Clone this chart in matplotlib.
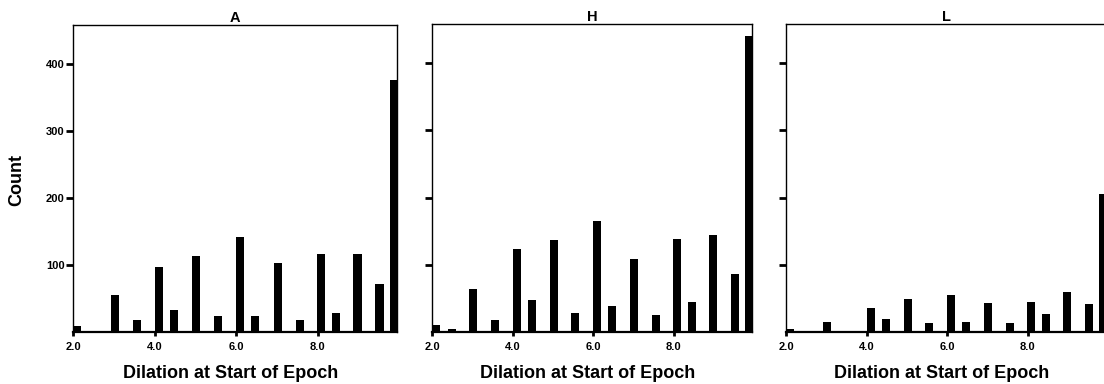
import matplotlib
matplotlib.use("Agg")
import matplotlib.pyplot as plt

plt.rcParams['font.family'] = ['Liberation Sans', 'DejaVu Sans']
plt.rcParams['font.weight'] = 'bold'

# Data
positions = [2.1, 2.5, 3.03, 3.57, 4.1, 4.48, 5.02, 5.55, 6.1, 6.47,
             7.02, 7.56, 8.08, 8.45, 8.98, 9.52, 9.87]
counts_A = [9, 2, 55, 18, 97, 33, 114, 24, 142, 24, 103, 18, 117, 28, 116, 72, 376]
counts_H = [11, 4, 64, 18, 124, 47, 137, 28, 165, 38, 108, 26, 139, 45, 144, 86, 440]
counts_L = [5, 0, 15, 2, 35, 19, 49, 13, 55, 15, 43, 14, 44, 27, 59, 42, 205]
panel_titles = ["A", "H", "L"]
x_ticks = [2.0, 4.0, 6.0, 8.0]
x_tick_labels = ["2.0", "4.0", "6.0", "8.0"]
y_ticks = [100, 200, 300, 400]
y_tick_labels = ["100", "200", "300", "400"]
x_label = "Dilation at Start of Epoch"
y_label = "Count"

W, H = 1104, 384
fig = plt.figure(figsize=(W / 100, H / 100), dpi=100)

# pixel boxes (left, right, top, bottom)
boxes = [(73, 397, 25, 332), (432, 752, 24, 332), (786, 1106, 24, 332)]
all_counts = [counts_A, counts_H, counts_L]

for i, ((l, r, t, b), cnts, ttl) in enumerate(zip(boxes, all_counts, panel_titles)):
    ax = fig.add_axes([l / W, 1 - b / H, (r - l) / W, (b - t) / H])
    ax.bar(positions, cnts, width=0.2, color="black", edgecolor="none")
    ax.set_xlim(2.0, 9.95)
    ax.set_ylim(0, 458)
    ax.set_xticks(x_ticks)
    ax.set_xticklabels(x_tick_labels, fontsize=8, fontweight='bold')
    ax.set_yticks(y_ticks)
    if i == 0:
        ax.set_yticklabels(y_tick_labels, fontsize=8, fontweight='bold')
    else:
        ax.set_yticklabels([])
    ax.tick_params(axis='y', direction='out', length=5, width=2, pad=1)
    ax.tick_params(axis='x', direction='out', length=3, width=2, pad=4)
    for s in ['top', 'right', 'left']:
        ax.spines[s].set_linewidth(1.0)
    ax.spines['bottom'].set_linewidth(1.6)
    ax.set_title(ttl, fontsize=10.5, fontweight='bold', pad=2)
    cx = (l + r) / 2 - 4
    fig.text(cx / W, 1 - 373 / H, x_label, ha='center', va='center',
             fontsize=13, fontweight='bold')

fig.text(17 / W, 1 - 180 / H, y_label, rotation=90, ha='center', va='center',
         fontsize=13, fontweight='bold')

fig.savefig("out.png", dpi=100)
